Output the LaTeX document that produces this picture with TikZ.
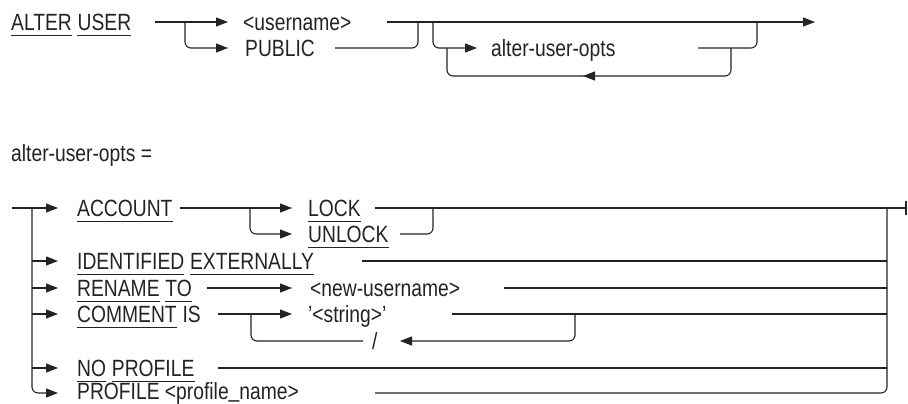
\documentclass[tikz,border=0pt]{standalone}
\usepackage{fontspec}
\setmainfont{Liberation Sans}[FakeStretch=0.82]
\usetikzlibrary{arrows.meta}
\definecolor{ink}{RGB}{35,35,35}
\begin{document}
\begin{tikzpicture}[x=1pt,y=-1pt,
  conn/.style={draw=ink, line width=1.1pt, rounded corners=6pt},
  arr/.style={conn, -{Triangle[length=12pt,width=9pt]}},
  txt/.style={anchor=west, inner sep=0pt, text height=17.5pt, text depth=0.5pt, text=ink,
    font=\fontsize{23.5}{28}\selectfont},
  ulin/.style={draw=ink, line width=1.1pt}]
\useasboundingbox (0,0) rectangle (908,404);

% ---------------- ALTER USER ----------------
\node[txt] (alter) at (11,22) {ALTER};
\node[txt] (user) at ([xshift=5.4pt]alter.east) {USER};
\node[txt] (uname) at (243,22) {<username>};
\node[txt] (public) at (245,48) {PUBLIC};
\node[txt] (auo) at (491,48) {alter-user-opts};

\coordinate (a0) at (155,22);
\coordinate (a1) at (185,22);
\coordinate (a2) at (228,22);
\coordinate (a3) at (228,48);
\coordinate (b0) at (387,22);
\coordinate (b1) at (815,22);
\coordinate (p0) at (335,48);
\coordinate (p1) at (418,22);
\coordinate (c0) at (433,22);
\coordinate (c1) at (477,48);
\coordinate (d0) at (698,48);
\coordinate (d1) at (757,22);
\coordinate (l0) at (731,48);
\coordinate (l1) at (583,76);
\coordinate (l2) at (447,48);

\draw[arr] (a0) -- (a2);
\draw[arr] (a1) -- (a1 |- a3) -- (a3);
\draw[arr] (b0) -- (b1);
\draw[conn] (p0) -- (p1 |- p0) -- (p1);
\draw[arr] (c0) -- (c0 |- c1) -- (c1);
\draw[conn] (d0) -- (d1 |- d0) -- (d1);
\draw[arr] (l0) -- (l0 |- l1) -- (l1);
\draw[conn] ([xshift=5pt]l1) -- (l2 |- l1) -- (l2);

% ---------------- definition ----------------
\node[txt] (def) at (11,153) {alter-user-opts =};

\node[txt] (account) at (77,208) {ACCOUNT};
\node[txt] (lock) at (308,208) {LOCK};
\node[txt] (unlock) at (308,234) {UNLOCK};
\node[txt] (ident) at (77,261) {IDENTIFIED};
\node[txt] (ext) at ([xshift=5.4pt]ident.east) {EXTERNALLY};
\node[txt] (rename) at (77,288) {RENAME};
\node[txt] (to) at ([xshift=5.4pt]rename.east) {TO};
\node[txt] (newu) at (310,288) {<new-username>};
\node[txt] (comment) at (77,314) {COMMENT};
\node[txt] (is) at ([xshift=5.4pt]comment.east) {IS};
\node[txt] (str) at (308,314) {'<string>'};
\node[txt] (slash) at (372,341) {/};
\node[txt] (no) at (77,368) {NO};
\node[txt] (noprof) at ([xshift=5.4pt]no.east) {PROFILE};
\node[txt] (prof) at (77,390.5) {PROFILE <profile\raisebox{1.5pt}{\_}name>};

% underlines
\foreach \n in {alter,user,account,lock,unlock,ident,ext,rename,to,comment,no,noprof}
  \draw[ulin] ([yshift=-5pt]\n.base west) -- ([yshift=-5pt]\n.base east);

% left rail
\coordinate (s0) at (12,208);
\coordinate (v0) at (32,208);
\coordinate (v7) at (32,393);
\coordinate (e0) at (58,208);
\coordinate (e2) at (58,261);
\coordinate (e3) at (58,288);
\coordinate (e4) at (58,314);
\coordinate (e6) at (58,368);
\coordinate (e7) at (58,393);
\draw[arr] (s0) -- (e0);
\draw[arr] (v0) -- (v7) -- (e7);
\foreach \e in {e2,e3,e4,e6} \draw[arr] (v0 |- \e) -- (\e);

% right rail
\coordinate (r0) at (887,208);
\coordinate (r7) at (887,393);
\coordinate (fin) at (906,208);

% ACCOUNT
\coordinate (k0) at (180,208);
\coordinate (k1) at (250,208);
\coordinate (k2) at (292,208);
\coordinate (k3) at (292,234);
\draw[arr] (k0) -- (k2);
\draw[arr] (k1) -- (k1 |- k3) -- (k3);
\coordinate (m0) at (375,208);
\draw[conn] (m0) -- (fin);
\draw[draw=ink, line width=2.3pt] ([yshift=6.7pt]fin) -- ([yshift=-6.7pt]fin);
\coordinate (u0) at (400,234);
\coordinate (u1) at (433,208);
\draw[conn] (u0) -- (u1 |- u0) -- (u1);
\draw[conn] (r0) -- (r7) -- (375,393);

% IDENTIFIED
\draw[conn] (362,261) -- (r0 |- ident);
% RENAME
\coordinate (n0) at (207,288);
\coordinate (n1) at (292,288);
\draw[arr] (n0) -- (n1);
\draw[conn] (504,288) -- (r0 |- newu);
% COMMENT
\coordinate (q0) at (218,314);
\coordinate (q1) at (251,314);
\coordinate (q2) at (292,314);
\coordinate (q3) at (575,314);
\coordinate (q4) at (400,341);
\draw[arr] (q0) -- (q2);
\draw[conn] (452,314) -- (r0 |- str);
\draw[arr] (q3) -- (q3 |- q4) -- (q4);
\draw[conn] (363,341) -- (q1 |- q4) -- (q1);
% NO PROFILE
\draw[conn] (218,368) -- (r0 |- no);
\end{tikzpicture}
\end{document}
